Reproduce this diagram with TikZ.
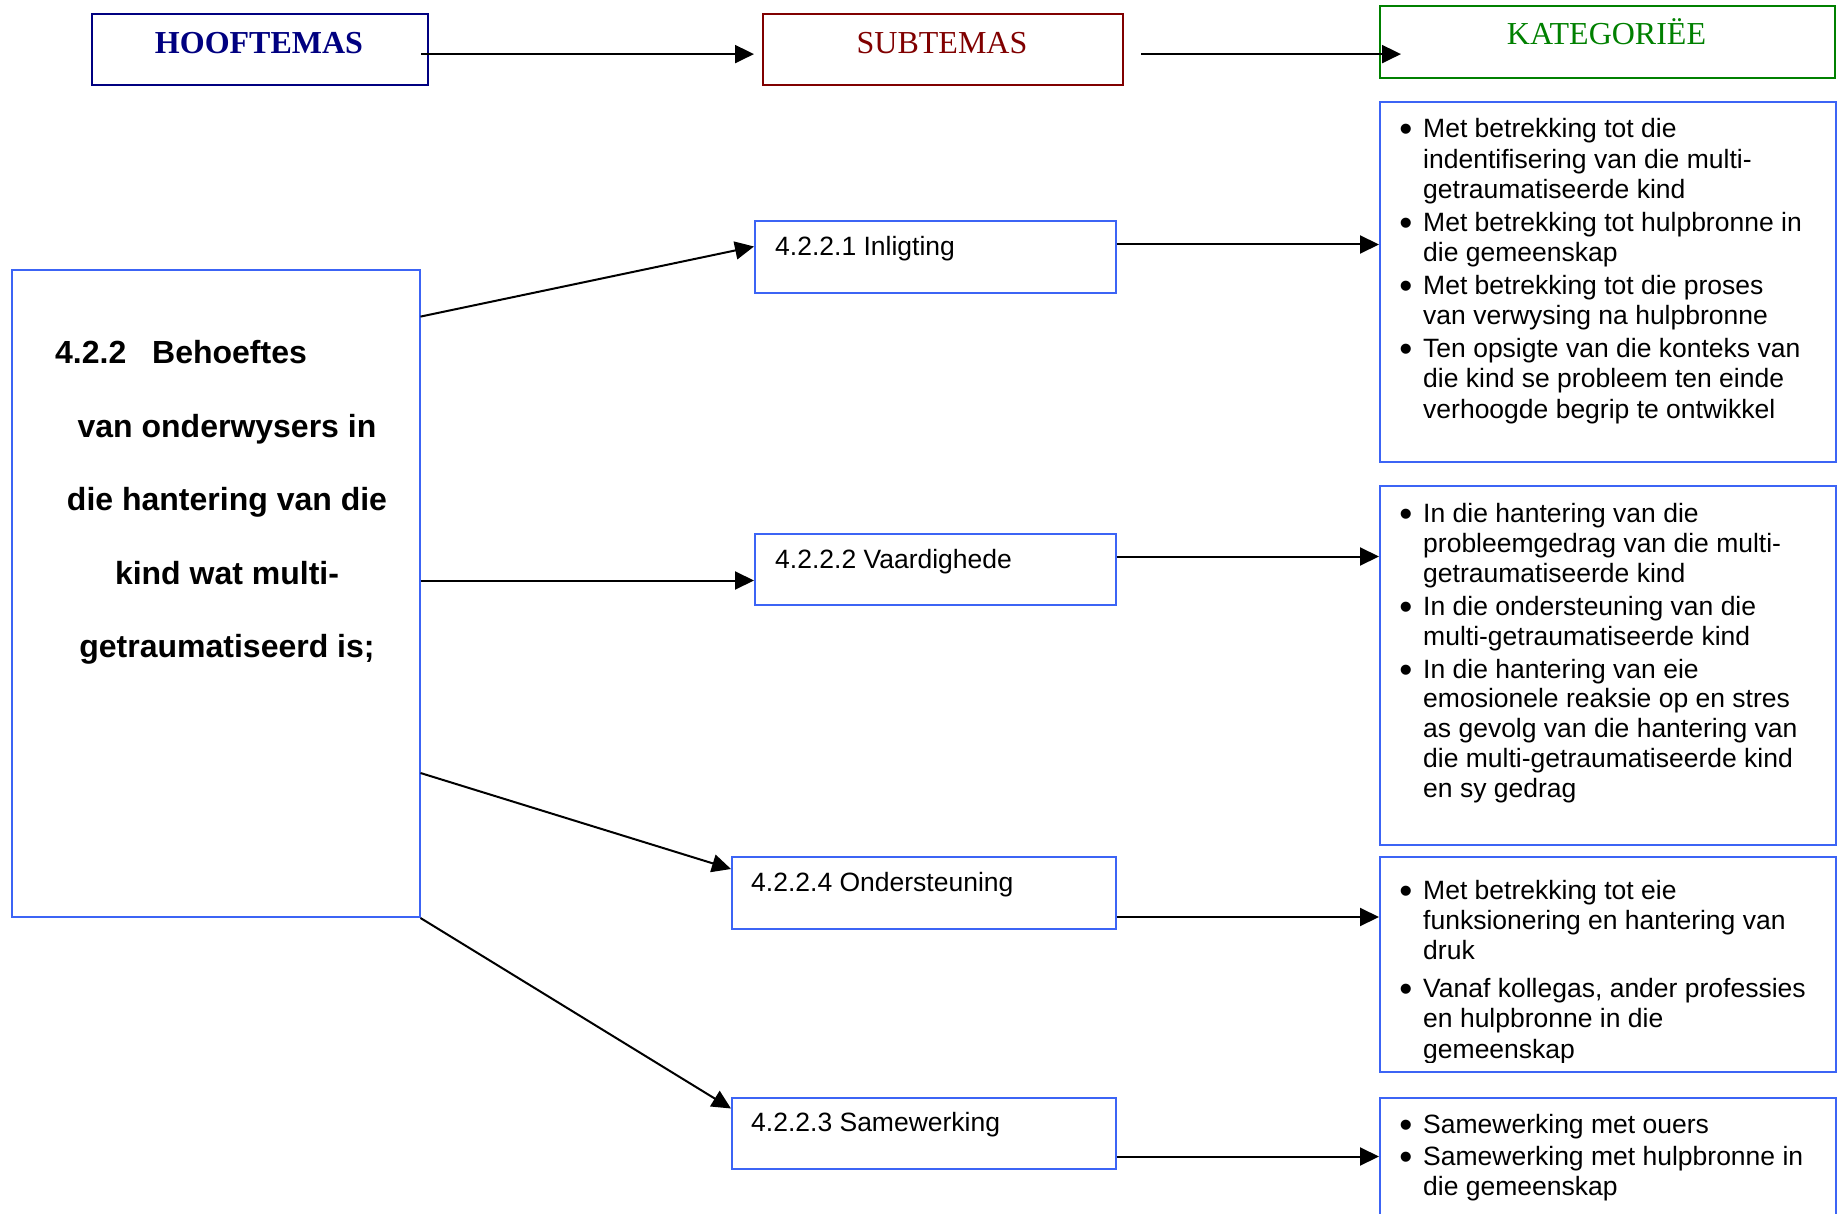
\documentclass[tikz,border=0pt]{standalone}
\usepackage{fontspec}
\usepackage{graphicx}
\setmainfont{Liberation Sans}
\newfontfamily\hdrserif{Liberation Serif}
\usetikzlibrary{arrows.meta,calc}
\definecolor{bbox}{RGB}{60,100,245}
\definecolor{hnavy}{RGB}{0,0,128}
\definecolor{hred}{RGB}{128,0,0}
\definecolor{hgreen}{RGB}{0,128,0}
\newcommand\mybul{\llap{\raisebox{-4pt}{\scalebox{1.4}{•}}\hspace{10.8pt}}}
\tikzset{
  bluebox/.style={draw=bbox, line width=2pt, inner sep=0pt, anchor=north west},
  hdrbox/.style={line width=2.2pt, inner sep=0pt, anchor=north west},
  arr/.style={line width=2pt, -{Triangle[length=19pt,width=18pt]}},
  cat/.style={font=\fontsize{26.5}{30.5}\selectfont, inner sep=0pt, anchor=base west},
  hdrtext/.style={font=\fontsize{32}{36}\selectfont\hdrserif, inner sep=0pt, anchor=base},
  maintext/.style={font=\fontsize{32}{36}\selectfont\bfseries, inner sep=0pt, anchor=base}
}
\begin{document}
\begin{tikzpicture}[x=1pt,y=-1pt]
\useasboundingbox (0,0) rectangle (1839,1214);
\clip (0,0) rectangle (1839,1214);

% header boxes
\node[hdrbox, draw=hnavy, minimum width=336pt, minimum height=71pt] (hoof) at (91,13) {};
\node[hdrbox, draw=hred, minimum width=360pt, minimum height=71pt] (sub) at (762,13) {};
\node[hdrbox, draw=hgreen, minimum width=455pt, minimum height=72pt] (kat) at (1379,5) {};
\node[hdrtext, font=\fontsize{32}{36}\selectfont\hdrserif\bfseries, text=hnavy] (thoof) at (259,54) {HOOFTEMAS};
\node[hdrtext, text=hred] (tsub) at (942,53.3) {SUBTEMAS};
\node[hdrtext, text=hgreen] (tkat) at (1606.5,45) {KATEGORIËE};

% main box
\node[bluebox, minimum width=408pt, minimum height=647.4pt] (main) at (10.5,268.6) {};
\node[maintext, anchor=base west] (m1) at (55,364) {4.2.2\hspace{25.8pt}Behoeftes};
\node[maintext] (m2) at (227,437) {van onderwysers in};
\node[maintext] (m3) at (227,510.5) {die hantering van die};
\node[maintext] (m4) at (227,584) {kind wat multi-};
\node[maintext] (m5) at (227,657.5) {getraumatiseerd is;};

% sub boxes
\node[bluebox, minimum width=360.5pt, minimum height=71.5pt] (s1) at (754,220.5) {};
\node[bluebox, minimum width=360.5pt, minimum height=71.5pt] (s2) at (754,532.5) {};
\node[bluebox, minimum width=383.5pt, minimum height=72pt] (s3) at (731,856) {};
\node[bluebox, minimum width=383.5pt, minimum height=71pt] (s4) at (731,1096.5) {};
\node[cat] (ts1) at (775,256) {4.2.2.1 Inligting};
\node[cat] (ts2) at (775,568) {4.2.2.2 Vaardighede};
\node[cat] (ts3) at (751,891) {4.2.2.4 Ondersteuning};
\node[cat] (ts4) at (751,1131) {4.2.2.3 Samewerking};

% category boxes
\node[bluebox, minimum width=455.5pt, minimum height=359.5pt] (c1) at (1379,101) {};
\node[bluebox, minimum width=455.5pt, minimum height=359.5pt] (c2) at (1379,484.5) {};
\node[bluebox, minimum width=455.5pt, minimum height=215pt] (c3) at (1379,856) {};
\node[bluebox, minimum width=455.5pt, minimum height=200pt] (c4) at (1379,1096.5) {};

\node[cat] (a1) at (1423,138) {\mybul Met betrekking tot die};
\node[cat] (a2) at (1423,168.5) {indentifisering van die multi-};
\node[cat] (a3) at (1423,199) {getraumatiseerde kind};
\node[cat] (a4) at (1423,231.5) {\mybul Met betrekking tot hulpbronne in};
\node[cat] (a5) at (1423,262) {die gemeenskap};
\node[cat] (a6) at (1423,294.5) {\mybul Met betrekking tot die proses};
\node[cat] (a7) at (1423,325) {van verwysing na hulpbronne};
\node[cat] (a8) at (1423,357.5) {\mybul Ten opsigte van die konteks van};
\node[cat] (a9) at (1423,388) {die kind se probleem ten einde};
\node[cat] (a10) at (1423,418.5) {verhoogde begrip te ontwikkel};

\node[cat] (b1) at (1423,522) {\mybul In die hantering van die};
\node[cat] (b2) at (1423,552) {probleemgedrag van die multi-};
\node[cat] (b3) at (1423,582) {getraumatiseerde kind};
\node[cat] (b4) at (1423,615) {\mybul In die ondersteuning van die};
\node[cat] (b5) at (1423,645) {multi-getraumatiseerde kind};
\node[cat] (b6) at (1423,678) {\mybul In die hantering van eie};
\node[cat] (b7) at (1423,707.5) {emosionele reaksie op en stres};
\node[cat] (b8) at (1423,737.5) {as gevolg van die hantering van};
\node[cat] (b9) at (1423,767.5) {die multi-getraumatiseerde kind};
\node[cat] (b10) at (1423,797.5) {en sy gedrag};

\node[cat] (d1) at (1423,899) {\mybul Met betrekking tot eie};
\node[cat] (d2) at (1423,929) {funksionering en hantering van};
\node[cat] (d3) at (1423,959) {druk};
\node[cat] (d4) at (1423,997) {\mybul Vanaf kollegas, ander professies};
\node[cat] (d5) at (1423,1027) {en hulpbronne in die};
\begin{scope}
\clip (c3.north west) rectangle ([yshift=10.5pt]c3.south east);
\node[cat] (d6) at (1423,1058) {gemeenskap};
\end{scope}

\node[cat] (e1) at (1423,1133) {\mybul Samewerking met ouers};
\node[cat] (e2) at (1423,1165) {\mybul Samewerking met hulpbronne in};
\node[cat] (e3) at (1423,1195) {die gemeenskap};

% connectors
\draw[arr] ([xshift=-8pt,yshift=-4.5pt]hoof.east) -- ([xshift=-8pt,yshift=-4.5pt]sub.west);
\draw[arr] ([xshift=17pt,yshift=-4.5pt]sub.east) -- ([xshift=22pt,yshift=-12pt]kat.west);

\draw[arr] ([yshift=-48pt]main.north east) -- ([yshift=-26pt]s1.north west);
\coordinate (t2) at ([yshift=-48pt]s2.north west);
\draw[arr] (main.east |- t2) -- (t2);
\draw[arr] ([yshift=-504.4pt]main.north east) -- ([yshift=-13pt]s3.north west);
\draw[arr] (main.south east) -- ([yshift=-12pt]s4.north west);

\coordinate (u1) at ([yshift=-24pt]s1.north east);
\coordinate (u2) at ([yshift=-24pt]s2.north east);
\coordinate (u3) at ([yshift=-61pt]s3.north east);
\coordinate (u4) at ([yshift=-60pt]s4.north east);
\draw[arr] (u1) -- (c1.west |- u1);
\draw[arr] (u2) -- (c2.west |- u2);
\draw[arr] (u3) -- (c3.west |- u3);
\draw[arr] (u4) -- (c4.west |- u4);
\end{tikzpicture}
\end{document}
